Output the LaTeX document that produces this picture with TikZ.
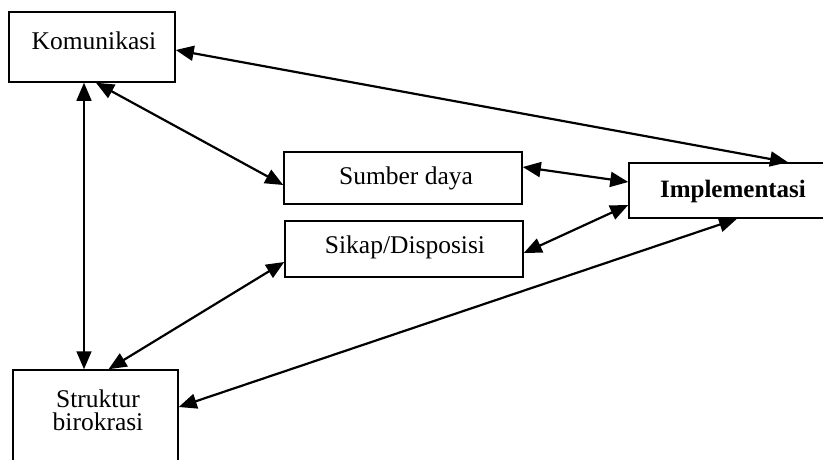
\documentclass[tikz,border=0pt]{standalone}
\usepackage{fontspec}
\setmainfont{Liberation Serif}
\usetikzlibrary{arrows.meta}
\begin{document}
\begin{tikzpicture}[x=1pt,y=-1pt,
  box/.style={draw=black, line width=1.5pt, rectangle, inner sep=0pt},
  lbl/.style={inner sep=0pt, align=center, font=\fontsize{25.5}{23}\selectfont},
  link/.style={line width=2.2pt, {Triangle[length=18pt,width=15pt]}-{Triangle[length=18pt,width=15pt]}},
  vlink/.style={line width=1.6pt, {Triangle[length=18pt,width=15pt]}-{Triangle[length=18pt,width=15pt]}}]
\useasboundingbox (0,0) rectangle (823,459);
\fill[white] (0,0) rectangle (823,459);
% boxes
\node[box, minimum width=166pt, minimum height=70pt] (kom) at (92,47) {};
\node[box, minimum width=238pt, minimum height=52pt] (sum) at (403,178) {};
\node[box, minimum width=238pt, minimum height=56pt] (sik) at (404,249) {};
\node[box, minimum width=197pt, minimum height=55pt] (imp) at (727.5,190.5) {};
\node[box, minimum width=165pt, minimum height=92pt] (str) at (95.5,416) {};
% labels
\node[lbl] (komt) at (94,41) {Komunikasi};
\node[lbl] (sumt) at (406,178) {Sumber daya};
\node[lbl] (sikt) at (405,247) {Sikap/Disposisi};
\node[lbl, font=\fontsize{25}{23}\selectfont\bfseries] (impt) at (733,191) {Implementasi};
\node[lbl] (strt) at (98,410) {Struktur\\birokrasi};
% connectors
\draw[link] ([yshift=-3pt]kom.east) -- ([xshift=60.5pt]imp.north);
\draw[link] ([xshift=4pt]kom.south) -- ([yshift=-7pt]sum.west);
\draw[vlink] ([xshift=-8pt]kom.south) -- ([xshift=-11.5pt]str.north);
\draw[link] ([yshift=-13pt]sik.west) -- ([xshift=13pt]str.north);
\draw[link] ([yshift=9pt]str.east) -- ([xshift=9.5pt]imp.south);
\draw[link] ([yshift=11pt]sum.east) -- ([yshift=8.5pt]imp.west);
\draw[link] ([yshift=-4pt]sik.east) -- ([yshift=-14.5pt]imp.west);
\end{tikzpicture}
\end{document}
